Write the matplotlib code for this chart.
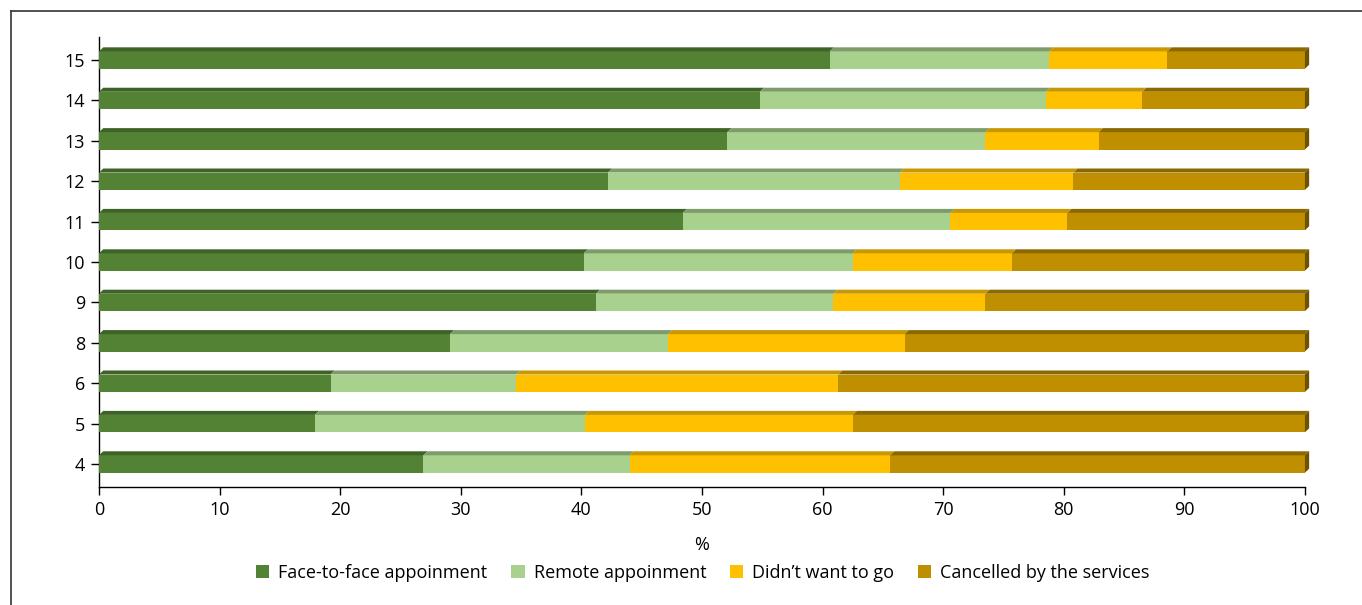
import matplotlib
matplotlib.use("Agg")
import matplotlib.pyplot as plt
from matplotlib.patches import Polygon, Patch
from matplotlib.lines import Line2D
import numpy as np

plt.rcParams['font.family'] = ['Open Sans', 'DejaVu Sans']

categories = ["4", "5", "6", "8", "9", "10", "11", "12", "13", "14", "15"]
face_to_face = [26.9, 17.9, 19.2, 29.1, 41.2, 40.2, 48.4, 42.2, 52.1, 54.8, 60.6]
remote = [17.1, 22.4, 15.4, 18.1, 19.7, 22.3, 22.2, 24.2, 21.4, 23.7, 18.2]
didnt_want = [21.6, 22.2, 26.7, 19.6, 12.6, 13.2, 9.7, 14.4, 9.4, 8.0, 9.8]
cancelled = [34.4, 37.5, 38.7, 33.2, 26.5, 24.3, 19.7, 19.2, 17.1, 13.5, 11.4]

series = [face_to_face, remote, didnt_want, cancelled]
labels = ["Face-to-face appoinment", "Remote appoinment", "Didn\u2019t want to go",
          "Cancelled by the services"]
colors = ["#548235", "#A9D18E", "#FFC000", "#BF8F00"]
top_colors = ["#3E6326", "#7E9C6A", "#C99700", "#8C6900"]
side_color = "#6E5200"

fig = plt.figure(figsize=(13.62, 6.05), dpi=100)
ax = fig.add_axes([0.0727, 0.195, 0.8854, 0.7438])

y = np.arange(len(categories))
h = 0.43
dx = 0.35
dy = 0.1
left = np.zeros(len(categories))
for vals, c, tc, lab in zip(series, colors, top_colors, labels):
    vals = np.array(vals)
    ax.barh(y, vals, left=left, height=h, color=c, edgecolor='none', label=lab, zorder=3)
    for yi, l, w in zip(y, left, vals):
        top = yi + h / 2
        poly = Polygon([(l, top), (l + w, top), (l + w + dx, top + dy), (l + dx, top + dy)],
                       closed=True, facecolor=tc, edgecolor='none', zorder=3, clip_on=False)
        ax.add_patch(poly)
    left = left + vals

for yi, tot in zip(y, left):
    poly = Polygon([(tot, yi - h / 2), (tot, yi + h / 2), (tot + dx, yi + h / 2 + dy),
                    (tot + dx, yi - h / 2 + dy)], closed=True, facecolor=side_color,
                   edgecolor='none', zorder=3, clip_on=False)
    ax.add_patch(poly)

ax.set_xlim(0, 100)
ax.set_ylim(-0.57, len(categories) - 1 + 0.57)
ax.set_xticks(np.arange(0, 101, 10))
ax.set_yticks(y)
ax.set_yticklabels(categories)
ax.tick_params(axis='both', labelsize=13, length=6, width=1, colors='black', pad=4)
ax.spines['top'].set_visible(False)
ax.spines['right'].set_visible(False)
ax.spines['left'].set_linewidth(1)
ax.spines['bottom'].set_linewidth(1)
ax.set_xlabel("%", fontsize=13, labelpad=12)

handles = [Patch(facecolor=c, edgecolor='none', label=l) for c, l in zip(colors, labels)]
fig.legend(handles=handles, loc='center', bbox_to_anchor=(0.516, 0.053), ncol=4,
           frameon=False, fontsize=13, handlelength=0.75, handleheight=0.75,
           handletextpad=0.5, columnspacing=1.3)

# figure frame (left and top edges)
fig.add_artist(Line2D([11 / 1362, 11 / 1362], [0, 1 - 11 / 605], color='#333333', lw=1.2,
                      transform=fig.transFigure))
fig.add_artist(Line2D([11 / 1362, 1], [1 - 11 / 605, 1 - 11 / 605], color='#333333', lw=1.2,
                      transform=fig.transFigure))

fig.savefig("out.png", dpi=100)
